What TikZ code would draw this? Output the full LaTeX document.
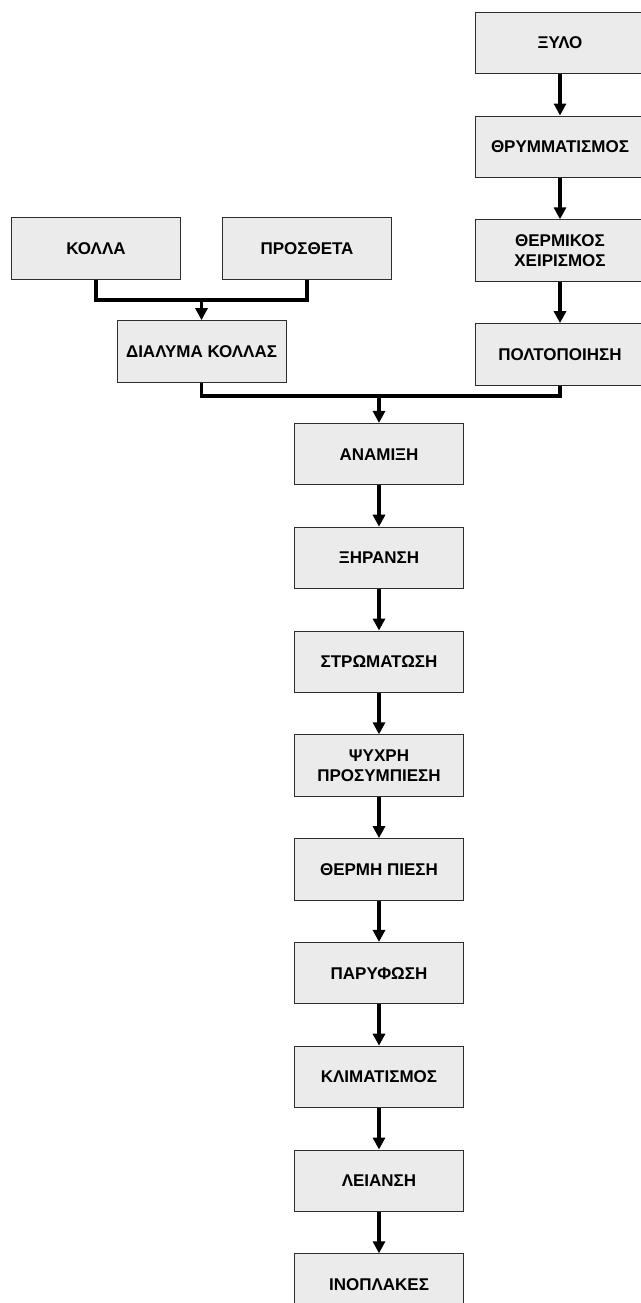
\documentclass[tikz,border=0pt]{standalone}
\usepackage{fontspec}
\setmainfont{Liberation Sans}
\usetikzlibrary{arrows.meta}
\usetikzlibrary{positioning}
\definecolor{boxgray}{RGB}{235, 235, 235}
\definecolor{boxedge}{RGB}{45, 45, 45}
\tikzset{stepbox/.style = {draw=boxedge, fill=boxgray, line width=1pt,
                           minimum width=169pt, minimum height=61.5pt,
                           inner sep=0pt, align=center,
                           font=\fontsize{17}{19.5}\selectfont\bfseries},
         link/.style = {line width=3.2pt},
         flow/.style = {link, -{Triangle[length=12pt, width=12pt]}}}

\begin{document}
\begin{tikzpicture}[x=1pt, y=1pt, node distance=41.3pt]
    \useasboundingbox (0, 0) rectangle (640, 1303);

    % wood line
    \node [stepbox] (xylo) at (560, 1260) {ΞΥΛΟ};
    \node [stepbox, below=of xylo] (thrymm) {ΘΡΥΜΜΑΤΙΣΜΟΣ};
    \node [stepbox, below=of thrymm] (thermik) {ΘΕΡΜΙΚΟΣ\\ΧΕΙΡΙΣΜΟΣ};
    \node [stepbox, below=of thermik] (poltop) {ΠΟΛΤΟΠΟΙΗΣΗ};

    % glue line
    \node [stepbox] (kolla) at (96, 1054.4) {ΚΟΛΛΑ};
    \node [stepbox] (prosth) at (307, 1054.4) {ΠΡΟΣΘΕΤΑ};
    \node [stepbox] (dialyma) at (201.5, 951.6) {ΔΙΑΛΥΜΑ ΚΟΛΛΑΣ};

    % main line
    \node [stepbox] (anamixi) at (379, 848.8) {ΑΝΑΜΙΞΗ};
    \node [stepbox, below=of anamixi] (xiransi) {ΞΗΡΑΝΣΗ};
    \node [stepbox, below=of xiransi] (stromat) {ΣΤΡΩΜΑΤΩΣΗ};
    \node [stepbox, below=of stromat] (psychri) {ΨΥΧΡΗ\\ΠΡΟΣΥΜΠΙΕΣΗ};
    \node [stepbox, below=of psychri] (thermi) {ΘΕΡΜΗ ΠΙΕΣΗ};
    \node [stepbox, below=of thermi] (paryf) {ΠΑΡΥΦΩΣΗ};
    \node [stepbox, below=of paryf] (klimat) {ΚΛΙΜΑΤΙΣΜΟΣ};
    \node [stepbox, below=of klimat] (leiansi) {ΛΕΙΑΝΣΗ};
    \node [stepbox, below=of leiansi] (inoplak) {ΙΝΟΠΛΑΚΕΣ};

    \coordinate (gluejoin) at (201.5, 1003);
    \coordinate (mainjoin) at (379, 907);

    \draw [flow] (xylo) -- (thrymm);
    \draw [flow] (thrymm) -- (thermik);
    \draw [flow] (thermik) -- (poltop);

    \draw [link] (kolla.south) |- (prosth.south |- gluejoin) -- (prosth.south);
    \draw [flow] (gluejoin) -- (dialyma.north);

    \draw [link] (dialyma.south) |- (poltop.south |- mainjoin) -- (poltop.south);
    \draw [flow] (mainjoin) -- (anamixi.north);

    \foreach \a/\b in {anamixi/xiransi, xiransi/stromat, stromat/psychri,
                       psychri/thermi, thermi/paryf, paryf/klimat,
                       klimat/leiansi, leiansi/inoplak} {
      \draw [flow] (\a) -- (\b);
    }
\end{tikzpicture}
\end{document}
